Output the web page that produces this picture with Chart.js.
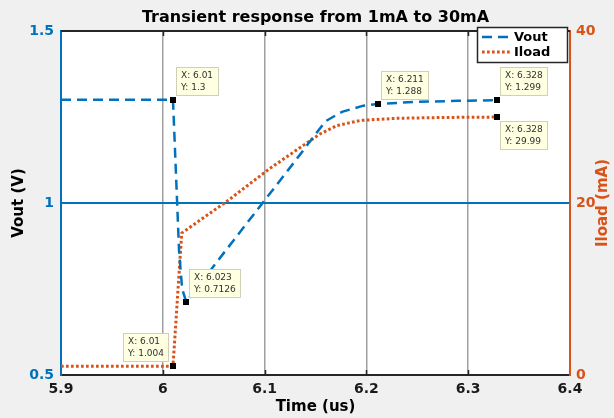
<!DOCTYPE html>
<html>
<head>
<meta charset="utf-8">
<script src="https://cdn.jsdelivr.net/npm/chart.js@4/dist/chart.umd.min.js"></script>
<style>
    html, body { margin: 0; padding: 0; background: #f0f0f0; }
    canvas { display: block; }
</style>
</head>
<body>
<canvas id="chart" width="614" height="418"></canvas>
<script>
// values
const timeVout = [5.9, 6.01, 6.016, 6.019, 6.023, 6.06, 6.098, 6.13, 6.15, 6.16, 6.176, 6.197, 6.211, 6.25, 6.29, 6.328];
const vout = [1.3, 1.3, 0.86, 0.75, 0.7126, 0.855, 1.0, 1.122, 1.2, 1.238, 1.265, 1.283, 1.288, 1.294, 1.297, 1.299];

const timeIload = [5.9, 6.01, 6.0186, 6.063, 6.105, 6.138, 6.154, 6.171, 6.194, 6.23, 6.28, 6.328];
const iload = [1.004, 1.004, 16.5, 20.2, 24.0, 26.7, 28.0, 29.0, 29.6, 29.85, 29.95, 29.99];

const xTicks = [5.9, 6, 6.1, 6.2, 6.3, 6.4];
const voutTicks = [0.5, 1, 1.5];
const iloadTicks = [0, 20, 40];

// data tips
const tipX = [6.01, 6.023, 6.01, 6.211, 6.328, 6.328];
const tipY = [1.3, 0.7126, 1.004, 1.288, 1.299, 29.99];
const tipAxis = ["y", "y", "y1", "y", "y", "y1"];
const tipSide = ["ne", "ne", "nw", "ne", "ne", "se"];

const blue = "#0072BD";
const orange = "#D95319";
const fontFamily = '"DejaVu Sans", sans-serif';

function toPoints(xs, ys) {
    return xs.map((x, i) => ({ x: x, y: ys[i] }));
}

function fixedTicks(values) {
    return (scale) => {
        scale.ticks = values.map((v) => ({ value: v }));
    };
}

const matlabLook = {
    id: "matlabLook",
    beforeDraw(chart) {
        const { ctx, chartArea: a } = chart;
        ctx.save();
        ctx.fillStyle = "#f0f0f0";
        ctx.fillRect(0, 0, chart.width, chart.height);
        ctx.fillStyle = "#ffffff";
        ctx.fillRect(a.left, a.top, a.right - a.left, a.bottom - a.top);
        ctx.restore();
    },
    afterDatasetsDraw(chart) {
        const { ctx, scales } = chart;
        ctx.save();
        ctx.font = "9px " + fontFamily;
        tipX.forEach((xv, i) => {
            const px = Math.round(scales.x.getPixelForValue(xv));
            const py = Math.round(scales[tipAxis[i]].getPixelForValue(tipY[i]));
            const lines = ["X: " + xv, "Y: " + tipY[i]];
            const w = Math.ceil(Math.max(...lines.map((t) => ctx.measureText(t).width))) + 9;
            const h = 28;
            const side = tipSide[i];
            const bx = side === "nw" ? px - 5 - w : px + 3;
            const by = side === "se" ? py + 4 : py - 5 - h;

            ctx.fillStyle = "#ffffe1";
            ctx.fillRect(bx + 0.5, by + 0.5, w, h);
            ctx.strokeStyle = "#d0d0b8";
            ctx.lineWidth = 1;
            ctx.strokeRect(bx + 0.5, by + 0.5, w, h);

            ctx.fillStyle = "#303030";
            ctx.textAlign = "left";
            ctx.textBaseline = "middle";
            ctx.fillText(lines[0], bx + 5, by + 8.5);
            ctx.fillText(lines[1], bx + 5, by + 20.5);

            ctx.fillStyle = "#000";
            ctx.fillRect(px - 3, py - 3, 6, 6);
        });
        ctx.restore();
    },
    afterDraw(chart) {
        const { ctx, chartArea: a, scales } = chart;
        ctx.save();

        // top edge of the box
        ctx.strokeStyle = "#262626";
        ctx.lineWidth = 2;
        ctx.beginPath();
        ctx.moveTo(a.left, a.top);
        ctx.lineTo(a.right, a.top);
        ctx.stroke();

        // inward tick marks
        ctx.lineWidth = 1.5;
        xTicks.slice(1, -1).forEach((v) => {
            const px = Math.round(scales.x.getPixelForValue(v)) + 0.5;
            ctx.beginPath();
            ctx.moveTo(px, a.bottom);
            ctx.lineTo(px, a.bottom - 5);
            ctx.moveTo(px, a.top);
            ctx.lineTo(px, a.top + 5);
            ctx.stroke();
        });

        // right axis title, reading upwards
        ctx.fillStyle = orange;
        ctx.font = "bold 15px " + fontFamily;
        ctx.textAlign = "center";
        ctx.textBaseline = "middle";
        ctx.translate(603, (a.top + a.bottom) / 2);
        ctx.rotate(-Math.PI / 2);
        ctx.fillText("Iload (mA)", 0, 0);
        ctx.setTransform(1, 0, 0, 1, 0, 0);

        // legend box
        const lx = a.right - 93;
        const ly = a.top - 4;
        const lw = 90;
        const lh = 35;
        ctx.fillStyle = "#ffffff";
        ctx.fillRect(lx, ly, lw, lh);
        ctx.strokeStyle = "#262626";
        ctx.lineWidth = 1.5;
        ctx.strokeRect(lx + 0.5, ly + 0.5, lw, lh);

        ctx.font = "bold 13px " + fontFamily;
        ctx.textAlign = "left";
        chart.data.datasets.forEach((ds, i) => {
            const cy = ly + 10 + i * 15;
            ctx.strokeStyle = ds.borderColor;
            ctx.lineWidth = ds.borderWidth;
            ctx.setLineDash(ds.borderDash);
            ctx.beginPath();
            ctx.moveTo(lx + 5, cy);
            ctx.lineTo(lx + 34, cy);
            ctx.stroke();
            ctx.setLineDash([]);
            ctx.fillStyle = "#000";
            ctx.fillText(ds.label, lx + 37, cy + 1);
        });

        ctx.restore();
    }
};

new Chart(document.getElementById("chart"), {
    type: "line",
    data: {
        datasets: [
            {
                label: "Vout",
                data: toPoints(timeVout, vout),
                yAxisID: "y",
                borderColor: blue,
                borderWidth: 2.5,
                borderDash: [10, 6],
                pointRadius: 0,
                fill: false
            },
            {
                label: "Iload",
                data: toPoints(timeIload, iload),
                yAxisID: "y1",
                borderColor: orange,
                borderWidth: 3,
                borderDash: [2.7, 2.3],
                pointRadius: 0,
                fill: false
            }
        ]
    },
    options: {
        responsive: false,
        animation: false,
        devicePixelRatio: 1,
        layout: { padding: 0 },
        plugins: {
            legend: { display: false },
            tooltip: { enabled: false },
            title: {
                display: true,
                fullSize: false,
                text: "Transient response from 1mA to 30mA",
                color: "#000",
                font: { family: fontFamily, size: 16, weight: "bold", lineHeight: 1.2 },
                padding: { top: 8, bottom: 3.8 }
            }
        },
        scales: {
            x: {
                type: "linear",
                min: 5.9,
                max: 6.4,
                afterBuildTicks: fixedTicks(xTicks),
                afterFit(scale) { scale.height = 43; },
                ticks: {
                    color: "#1a1a1a",
                    padding: 6,
                    font: { family: fontFamily, size: 14, weight: "bold" },
                    callback: (v) => String(v)
                },
                grid: {
                    drawTicks: false,
                    lineWidth: 1.5,
                    color: (c) => (c.index === 0 || c.index === xTicks.length - 1) ? "rgba(0,0,0,0)" : "#a0a0a0"
                },
                border: { color: "#262626", width: 2 },
                title: {
                    display: true,
                    text: "Time (us)",
                    color: "#000",
                    font: { family: fontFamily, size: 15, weight: "bold", lineHeight: 1.2 },
                    padding: { top: 0, bottom: 1.5 }
                }
            },
            y: {
                type: "linear",
                position: "left",
                min: 0.5,
                max: 1.5,
                afterBuildTicks: fixedTicks(voutTicks),
                afterFit(scale) { scale.width = 61; },
                ticks: {
                    color: blue,
                    padding: 7,
                    font: { family: fontFamily, size: 14, weight: "bold" },
                    callback: (v) => String(v)
                },
                grid: {
                    drawTicks: false,
                    lineWidth: 2,
                    color: (c) => (c.tick && c.tick.value === 1) ? blue : "rgba(0,0,0,0)"
                },
                border: { color: blue, width: 2 },
                title: {
                    display: true,
                    text: "Vout (V)",
                    color: "#000",
                    font: { family: fontFamily, size: 15, weight: "bold", lineHeight: 1.2 },
                    padding: { top: 10, bottom: 0 }
                }
            },
            y1: {
                type: "linear",
                position: "right",
                min: 0,
                max: 40,
                afterBuildTicks: fixedTicks(iloadTicks),
                afterFit(scale) { scale.width = 44; },
                ticks: {
                    color: orange,
                    padding: 6,
                    font: { family: fontFamily, size: 14, weight: "bold" },
                    callback: (v) => String(v)
                },
                grid: { display: false, drawTicks: false },
                border: { color: orange, width: 2 }
            }
        }
    },
    plugins: [matlabLook]
});
</script>
</body>
</html>
